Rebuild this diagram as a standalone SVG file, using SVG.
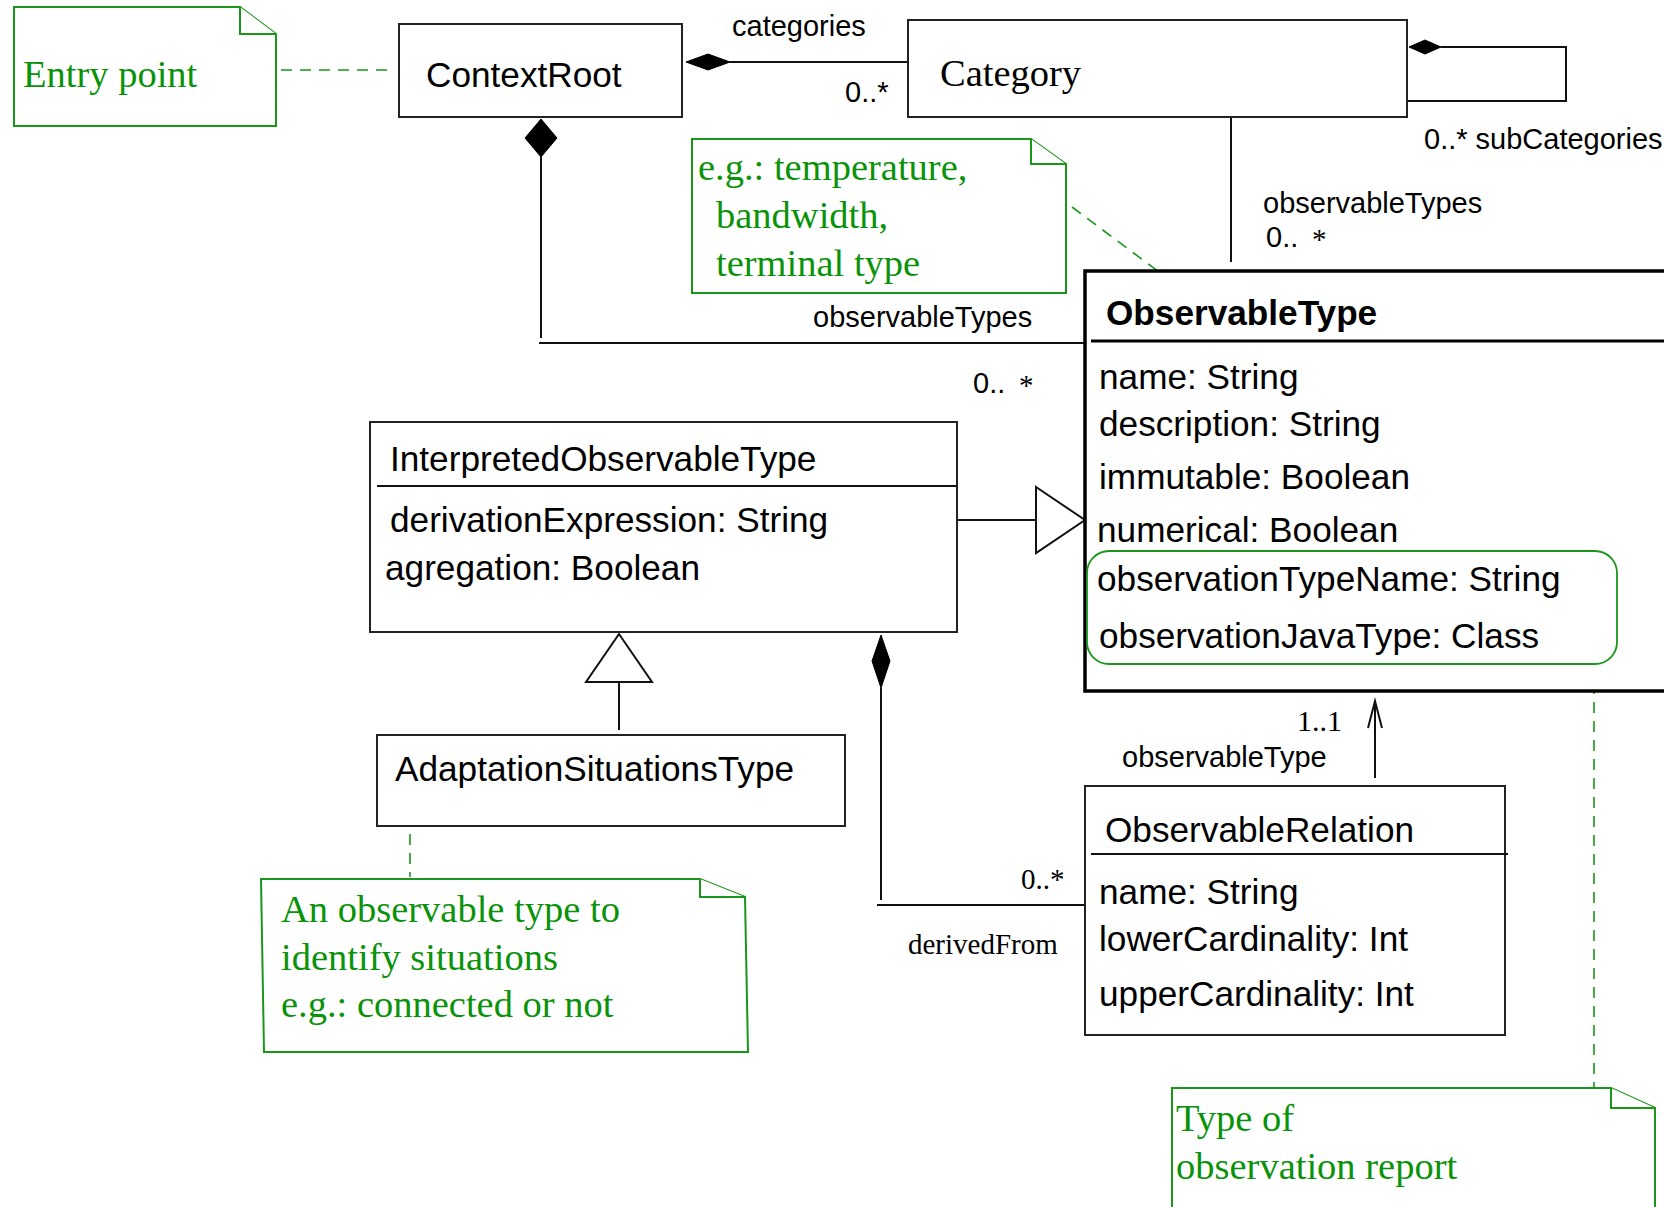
<svg xmlns="http://www.w3.org/2000/svg" width="1664" height="1207" viewBox="0 0 1664 1207">
<style>
.box{fill:#fff;stroke:#222;stroke-width:2}
.thick{fill:#fff;stroke:#000;stroke-width:3.5}
.ln{fill:none;stroke:#111;stroke-width:2}
.dia{fill:#000;stroke:#000;stroke-width:1}
.tri{fill:#fff;stroke:#111;stroke-width:2}
.note{fill:#fff;stroke:#1a961a;stroke-width:2}
.gdash{fill:none;stroke:#1a961a;stroke-width:1.6;stroke-dasharray:11 8}
.sans{font-family:"Liberation Sans",Arial,sans-serif;fill:#000}
.serif{font-family:"Liberation Serif","Times New Roman",serif;fill:#000}
.g{font-family:"Liberation Serif","Times New Roman",serif;fill:#0a930a;font-size:38.5px}
.t35{font-size:35.2px}
.t28{font-size:29px}
</style>
<rect width="1664" height="1207" fill="#fff"/>
<g id="connectors">
  <line class="gdash" x1="281" y1="70" x2="395" y2="70"/>
  <line class="gdash" x1="1072" y1="207" x2="1167" y2="278"/>
  <line class="gdash" x1="410" y1="834" x2="410" y2="877"/>
  <line class="gdash" x1="1594" y1="664" x2="1594" y2="1088"/>
  <polygon class="dia" points="686,62 708,54 730,62 708,70"/>
  <line class="ln" x1="730" y1="62" x2="908" y2="62"/>
  <polygon class="dia" points="1409,47 1425,40 1441,47 1425,54"/>
  <polyline class="ln" points="1441,47 1566,47 1566,101 1407,101"/>
  <line class="ln" x1="1231" y1="117" x2="1231" y2="262"/>
  <polygon class="dia" points="541,119 557,138 541,157 525,138"/>
  <line class="ln" x1="541" y1="157" x2="541" y2="338"/>
  <line class="ln" x1="539" y1="343" x2="1085" y2="343"/>
  <line class="ln" x1="957" y1="520" x2="1036" y2="520"/>
  <polygon class="tri" points="1036,487 1085,520 1036,553"/>
  <line class="ln" x1="619" y1="682" x2="619" y2="730"/>
  <polygon class="tri" points="619,634 652,682 586,682"/>
  <polygon class="dia" points="881,635 890,661 881,688 872,661"/>
  <line class="ln" x1="881" y1="688" x2="881" y2="900"/>
  <line class="ln" x1="877" y1="905" x2="1085" y2="905"/>
  <line class="ln" x1="1375" y1="778" x2="1375" y2="702"/>
  <polyline class="ln" points="1368,728 1375,701 1382,728"/>
  <text class="sans t28" x="732" y="36">categories</text>
  <text class="sans t28" x="845" y="102">0..*</text>
  <text class="sans t28" x="1424" y="149">0..* subCategories</text>
  <text class="sans t28" x="1263" y="213">observableTypes</text>
  <text class="sans t28" x="1266" y="247">0..</text>
  <text class="serif t28" x="1312" y="249">*</text>
  <text class="sans t28" x="813" y="327">observableTypes</text>
  <text class="sans t28" x="973" y="393">0..</text>
  <text class="serif t28" x="1019" y="395">*</text>
  <text class="serif" font-size="29" x="1021" y="889">0..*</text>
  <text class="serif" font-size="29" x="908" y="954">derivedFrom</text>
  <text class="serif" font-size="30" x="1297" y="731">1..1</text>
  <text class="sans t28" x="1122" y="767">observableType</text>
</g>
<g id="note-entry">
  <path class="note" d="M14,7 L240,7 L276,34 L276,126 L14,126 Z"/>
  <path class="note" d="M240,7 L240,34 L276,34"/>
  <text class="g" x="23" y="87">Entry point</text>
</g>
<g id="ContextRoot">
  <rect class="box" x="399" y="24" width="283" height="93"/>
  <text class="sans t35" x="426" y="87">ContextRoot</text>
</g>
<g id="Category">
  <rect class="box" x="908" y="20" width="499" height="97"/>
  <text class="serif" font-size="38.5" x="940" y="86">Category</text>
</g>
<g id="note-examples">
  <path class="note" d="M692,139 L1031,139 L1066,164 L1066,293 L692,293 Z"/>
  <path class="note" d="M1031,139 L1031,164 L1066,164"/>
  <text class="g" x="698" y="180">e.g.: temperature,</text>
  <text class="g" x="716" y="228">bandwidth,</text>
  <text class="g" x="716" y="276">terminal type</text>
</g>
<g id="ObservableType">
  <rect class="thick" x="1085" y="271" width="600" height="420"/>
  <line x1="1091" y1="341" x2="1685" y2="341" stroke="#000" stroke-width="3"/>
  <text class="sans t35" font-weight="bold" x="1106" y="325">ObservableType</text>
  <text class="sans t35" x="1099" y="389">name: String</text>
  <text class="sans t35" x="1099" y="436">description: String</text>
  <text class="sans t35" x="1099" y="489">immutable: Boolean</text>
  <text class="sans t35" x="1097" y="542">numerical: Boolean</text>
  <text class="sans t35" x="1097" y="591">observationTypeName: String</text>
  <text class="sans t35" x="1099" y="648">observationJavaType: Class</text>
  <rect x="1087" y="551" width="530" height="113" rx="22" fill="none" stroke="#1a961a" stroke-width="1.8"/>
</g>
<g id="InterpretedObservableType">
  <rect class="box" x="370" y="422" width="587" height="210"/>
  <line class="ln" x1="377" y1="486" x2="957" y2="486"/>
  <text class="sans t35" x="390" y="471">InterpretedObservableType</text>
  <text class="sans t35" x="390" y="532">derivationExpression: String</text>
  <text class="sans t35" x="385" y="580">agregation: Boolean</text>
</g>
<g id="AdaptationSituationsType">
  <rect class="box" x="377" y="735" width="468" height="91"/>
  <text class="sans t35" x="395" y="781">AdaptationSituationsType</text>
</g>
<g id="note-adaptation">
  <path class="note" d="M261,879 L700,879 L745,897 L748,1052 L264,1052 Z"/>
  <path class="note" d="M700,879 L700,897 L745,897"/>
  <text class="g" x="281" y="922">An observable type to</text>
  <text class="g" x="281" y="970">identify situations</text>
  <text class="g" x="281" y="1017">e.g.: connected or not</text>
</g>
<g id="ObservableRelation">
  <rect class="box" x="1085" y="786" width="420" height="249"/>
  <line class="ln" x1="1091" y1="854" x2="1508" y2="854"/>
  <text class="sans t35" x="1105" y="842">ObservableRelation</text>
  <text class="sans t35" x="1099" y="904">name: String</text>
  <text class="sans t35" x="1099" y="951">lowerCardinality: Int</text>
  <text class="sans t35" x="1099" y="1006">upperCardinality: Int</text>
</g>
<g id="note-report">
  <path class="note" d="M1172,1088 L1611,1088 L1655,1108 L1655,1220 L1172,1220 Z"/>
  <path class="note" d="M1611,1088 L1611,1108 L1655,1108"/>
  <text class="g" x="1176" y="1131">Type of</text>
  <text class="g" x="1176" y="1179">observation report</text>
</g>
</svg>
